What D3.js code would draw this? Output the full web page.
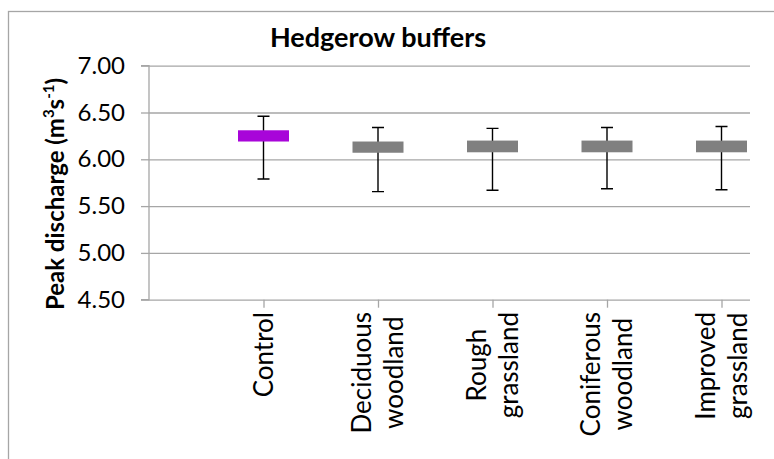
<!DOCTYPE html>
<html>
<head>
<meta charset="utf-8">
<script src="https://cdn.jsdelivr.net/npm/d3@7"></script>
<style>
  html, body { margin: 0; padding: 0; background: #fff; }
  svg { display: block; }
  text { font-family: Lato, "Open Sans", sans-serif; fill: #000; }
</style>
</head>
<body>
<svg id="chart" width="774" height="459"></svg>
<script>
// ---- data ----
const categories = ["Control", "Deciduous woodland", "Rough grassland", "Coniferous woodland", "Improved grassland"];
const boxHigh    = [6.31, 6.19, 6.20, 6.20, 6.20];
const boxLow     = [6.19, 6.07, 6.075, 6.075, 6.075];
const whiskerHigh = [6.46, 6.34, 6.33, 6.34, 6.35];
const whiskerLow  = [5.79, 5.655, 5.67, 5.685, 5.675];
const boxColors  = ["#a805d9", "#808080", "#808080", "#808080", "#808080"];
const yTicks = [4.5, 5.0, 5.5, 6.0, 6.5, 7.0];
const titleText = "Hedgerow buffers";

// ---- layout ----
const svg = d3.select("#chart");
const W = 774, H = 459;
const plotLeft = 149, plotRight = 750, plotTop = 65.7, plotBottom = 299.7;
const gridColor = "#a6a6a6";

svg.append("rect").attr("width", W).attr("height", H).attr("fill", "#fff");
// outer chart border (extends beyond the view on right/bottom)
svg.append("rect")
  .attr("x", 8.5).attr("y", 11.5).attr("width", 900).attr("height", 600)
  .attr("fill", "none").attr("stroke", gridColor).attr("stroke-width", 1.3);

const y = d3.scaleLinear().domain([4.5, 7]).range([plotBottom, plotTop]);
const x = d3.scalePoint().domain(categories).range([263.5, 721.5]);

// gridlines
const grid = svg.append("g").attr("transform", `translate(${plotLeft},0)`)
  .call(d3.axisLeft(y).tickValues(yTicks).tickSize(-(plotRight - plotLeft)).tickFormat(""));
grid.select(".domain").remove();
grid.selectAll("line").attr("stroke", gridColor).attr("stroke-width", 1.3);

// y axis
const yAxis = svg.append("g").attr("transform", `translate(${plotLeft},0)`)
  .call(d3.axisLeft(y).tickValues(yTicks).tickFormat(d3.format(".2f")).tickSize(8).tickPadding(16));
yAxis.select(".domain").attr("stroke", gridColor).attr("stroke-width", 1.3)
  .attr("d", `M-8,${plotTop}H0V${plotBottom}H-8`);
yAxis.selectAll(".tick line").attr("stroke", gridColor).attr("stroke-width", 1.3);
yAxis.selectAll(".tick text").attr("font-size", 24).attr("fill", "#000")
  .attr("font-family", "Lato, 'Open Sans', sans-serif");

// x axis ticks
const xAxis = svg.append("g").attr("transform", `translate(0,${plotBottom})`)
  .call(d3.axisBottom(x).tickSize(8).tickFormat(""));
xAxis.select(".domain").remove();
xAxis.selectAll(".tick line").attr("stroke", gridColor).attr("stroke-width", 1.3);

// x labels (rotated, wrapped)
const labelFont = 26, lineGap = 32, labelTop = 312;
categories.forEach((c) => {
  const lines = c.split(" ");
  const g = svg.append("g");
  const texts = lines.map((ln, i) => g.append("text")
    .attr("font-size", labelFont).attr("text-anchor", "middle").text(ln));
  const maxLen = d3.max(texts, t => t.node().getComputedTextLength());
  const cy = labelTop + maxLen / 2;
  texts.forEach((t, i) => {
    const cx = x(c) + (i - (lines.length - 1) / 2) * lineGap;
    t.attr("transform", `translate(${cx + 0.36 * labelFont},${cy}) rotate(-90)`);
  });
});

// whiskers
const idx = d3.range(categories.length);
const capHalf = 6;
svg.append("g").selectAll("path").data(idx).join("path")
  .attr("d", i => {
    const cx = x(categories[i]), t = y(whiskerHigh[i]), b = y(whiskerLow[i]);
    return `M${cx - capHalf},${t}H${cx + capHalf}M${cx},${t}V${b}M${cx - capHalf},${b}H${cx + capHalf}`;
  })
  .attr("fill", "none").attr("stroke", "#000").attr("stroke-width", 1.4);

// boxes
const boxW = 51;
svg.append("g").selectAll("rect").data(idx).join("rect")
  .attr("x", i => x(categories[i]) - boxW / 2)
  .attr("width", boxW)
  .attr("y", i => y(boxHigh[i]))
  .attr("height", i => y(boxLow[i]) - y(boxHigh[i]))
  .attr("fill", i => boxColors[i]);

// title
svg.append("text").attr("x", 378).attr("y", 47)
  .attr("text-anchor", "middle").attr("font-size", 27).attr("font-weight", "bold")
  .text(titleText);

// y axis title
const yt = svg.append("text")
  .attr("transform", `translate(64,194) rotate(-90)`)
  .attr("text-anchor", "middle").attr("font-size", 24).attr("font-weight", "bold");
yt.append("tspan").text("Peak discharge (m");
yt.append("tspan").attr("font-size", 15).attr("dy", -10).text("3");
yt.append("tspan").attr("dy", 10).text("s");
yt.append("tspan").attr("font-size", 15).attr("dy", -10).text("-1");
yt.append("tspan").attr("dy", 10).text(")");
</script>
</body>
</html>
